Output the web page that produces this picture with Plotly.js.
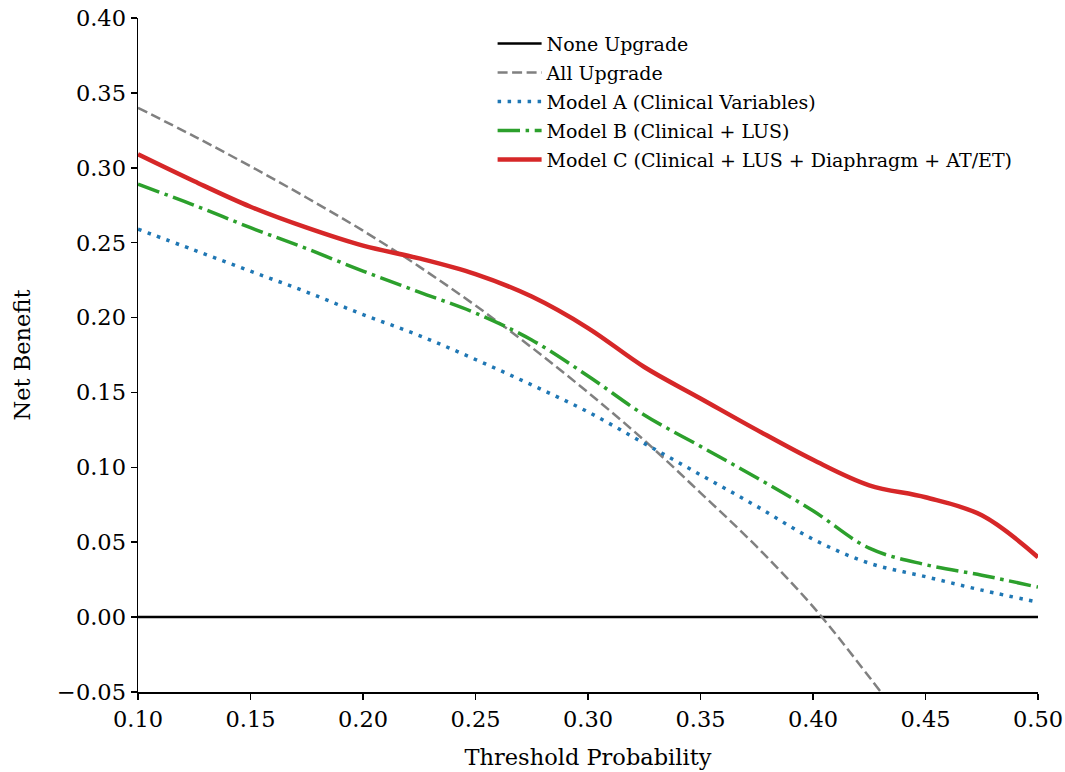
<!DOCTYPE html>
<html>
<head>
<meta charset="utf-8">
<script src="https://cdn.plot.ly/plotly-3.0.1.min.js"></script>
<style>html,body{margin:0;padding:0;background:#fff;}#chart{width:1065px;height:772px;}</style>
</head>
<body>
<div id="chart"></div>
<script>
const thresholds = [0.10,0.125,0.15,0.175,0.20,0.225,0.25,0.275,0.30,0.325,0.35,0.375,0.40,0.425,0.45,0.475,0.50];
const noneUpgrade = [0,0,0,0,0,0,0,0,0,0,0,0,0,0,0,0,0];
const allThresholds = [0.10,0.125,0.15,0.175,0.20,0.225,0.25,0.275,0.30,0.325,0.35,0.375,0.40,0.425,0.45];
const allUpgrade = [0.340,0.321,0.301,0.280,0.258,0.234,0.208,0.180,0.150,0.118,0.083,0.047,0.007,-0.040,-0.090];
const modelA = [0.259,0.245,0.231,0.217,0.202,0.188,0.172,0.155,0.137,0.116,0.095,0.074,0.052,0.036,0.027,0.018,0.010];
const modelB = [0.289,0.275,0.260,0.246,0.231,0.217,0.203,0.185,0.161,0.135,0.114,0.093,0.071,0.046,0.035,0.028,0.020];
const modelC = [0.309,0.291,0.274,0.260,0.248,0.2395,0.229,0.214,0.193,0.167,0.146,0.125,0.105,0.088,0.080,0.068,0.040];

const font = "DejaVu Serif, serif";
const traces = [
  {x: thresholds, y: noneUpgrade, mode:'lines', name:'None Upgrade', legendgroup:'g1', line:{color:'#000000', width:2.5}},
  {x: allThresholds, y: allUpgrade, mode:'lines', name:'All Upgrade', legendgroup:'g2', line:{color:'#808080', width:2.5, dash:'10px,4.5px', shape:'spline', smoothing:1}},
  {x: thresholds, y: modelA, mode:'lines', name:'Model A (Clinical Variables)', legendgroup:'g3', line:{color:'#1f77b4', width:3.5, dash:'3.5px,6.5px', shape:'spline', smoothing:1}},
  {x: thresholds, y: modelB, mode:'lines', name:'Model B (Clinical + LUS)', legendgroup:'g4', line:{color:'#2ca02c', width:3.5, dash:'22.4px,5.6px,3.5px,5.6px', shape:'spline', smoothing:1}},
  {x: thresholds, y: modelC, mode:'lines', name:'Model C (Clinical + LUS + Diaphragm + AT/ET)', legendgroup:'g5', line:{color:'#d62728', width:4.5, shape:'spline', smoothing:1}}
];
const layout = {
  width:1065, height:772,
  margin:{l:138, r:27, t:18, b:80},
  paper_bgcolor:'#ffffff', plot_bgcolor:'#ffffff',
  font:{family:font, size:22.5, color:'#000'},
  showlegend:true,
  legend:{x:0.394, y:0.99, xanchor:'left', yanchor:'top', bgcolor:'rgba(0,0,0,0)', font:{family:font, size:19, color:'#000'}, tracegroupgap:1.3, itemwidth:44},
  xaxis:{range:[0.10,0.50], tickvals:[0.10,0.15,0.20,0.25,0.30,0.35,0.40,0.45,0.50], ticktext:['0.10','0.15','0.20','0.25','0.30','0.35','0.40','0.45','0.50'],
    showline:true, linecolor:'#000', linewidth:1.5, ticks:'outside', ticklen:6, tickwidth:1.5, tickcolor:'#000', showgrid:false, zeroline:false,
    tickfont:{family:font, size:22.5}, title:{text:'Threshold Probability', font:{family:font, size:22.5}, standoff:18}},
  yaxis:{range:[-0.05,0.40], tickvals:[-0.05,0,0.05,0.10,0.15,0.20,0.25,0.30,0.35,0.40], ticktext:['\u22120.05','0.00','0.05','0.10','0.15','0.20','0.25','0.30','0.35','0.40'],
    showline:true, linecolor:'#000', linewidth:1.5, ticks:'outside', ticklen:6, tickwidth:1.5, tickcolor:'#000', showgrid:false, zeroline:false,
    tickfont:{family:font, size:22.5}, title:{text:'Net Benefit', font:{family:font, size:22.5}, standoff:20}}
};
Plotly.newPlot('chart', traces, layout, {displayModeBar:false, staticPlot:true});
</script>
</body>
</html>
